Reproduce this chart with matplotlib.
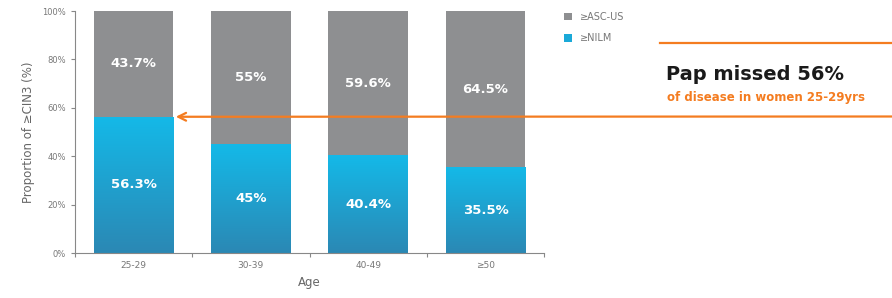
import matplotlib.pyplot as plt
import numpy as np
from matplotlib.colors import LinearSegmentedColormap

AGE_GROUPS = ["25-29", "30-39", "40-49", "≥50"]
NILM = [56.3, 45, 40.4, 35.5]
ASC_US = [43.7, 55, 59.6, 64.5]
NILM_LABELS = ["56.3%", "45%", "40.4%", "35.5%"]
ASC_LABELS = ["43.7%", "55%", "59.6%", "64.5%"]
Y_TICKS = [0, 20, 40, 60, 80, 100]

GREY = "#8e8f91"
CYAN = "#1aa9d8"
ORANGE = "#f47c20"
TXT = "#777777"

fig = plt.figure(figsize=(8.92, 2.98), dpi=100)
ax = fig.add_axes([0.084, 0.151, 0.526, 0.812])

x = np.arange(len(AGE_GROUPS))
w = 0.68
nilm_bars = ax.bar(x, NILM, w, color=CYAN, label="≥NILM")
ax.bar(x, ASC_US, w, bottom=NILM, color=GREY, label="≥ASC-US")

# vertical gradient on the cyan bars (darker at the bottom)
cmap = LinearSegmentedColormap.from_list("cy", ["#2b88b4", "#14b9e8"])
grad = np.linspace(0, 1, 256).reshape(-1, 1)
for b in nilm_bars:
    bx, by = b.get_x(), b.get_y()
    im = ax.imshow(grad, cmap=cmap, origin="lower", aspect="auto",
                   extent=[bx, bx + b.get_width(), by, by + b.get_height()], zorder=1.5)
    im.set_clip_path(b)

for xi, n, a, nl, al in zip(x, NILM, ASC_US, NILM_LABELS, ASC_LABELS):
    ax.text(xi, n / 2, nl, ha="center", va="center", color="white",
            fontsize=9.5, fontweight="bold", zorder=3)
    ax.text(xi, n + a / 2, al, ha="center", va="center", color="white",
            fontsize=9.5, fontweight="bold", zorder=3)

ax.set_xlim(-0.5, len(AGE_GROUPS) - 0.5)
ax.set_ylim(0, 100)
ax.set_yticks(Y_TICKS)
ax.set_yticklabels([f"{t}%" for t in Y_TICKS], fontsize=6, color=TXT)
ax.set_xticks(np.arange(len(AGE_GROUPS) + 1) - 0.5)
ax.set_xticklabels([])
ax.set_xticks(x, minor=True)
ax.set_xticklabels(AGE_GROUPS, minor=True, fontsize=6.5, color=TXT)
ax.tick_params(axis="x", which="minor", length=0, pad=6)
ax.tick_params(axis="both", which="major", length=3, color="#888888")
for s in ["top", "right"]:
    ax.spines[s].set_visible(False)
for s in ["left", "bottom"]:
    ax.spines[s].set_color("#888888")
    ax.spines[s].set_linewidth(0.8)
ax.set_xlabel("Age", fontsize=8.5, color="#666666", labelpad=4)
ax.set_ylabel("Proportion of ≥CIN3 (%)", fontsize=8.5, color="#666666", labelpad=5)

# legend
h, l = ax.get_legend_handles_labels()
leg = fig.legend(h[::-1], l[::-1], loc="upper left", bbox_to_anchor=(0.623, 0.99),
                 frameon=False, fontsize=7, handlelength=0.8, handleheight=0.8,
                 labelspacing=1.2, handletextpad=0.8)
for t in leg.get_texts():
    t.set_color(TXT)

# callout
fig.add_artist(plt.Line2D([660 / 892, 1.0], [1 - 43 / 298] * 2, color=ORANGE, lw=1.6))
fig.text(666 / 892, 1 - 75 / 298, "Pap missed 56%", fontsize=14, fontweight="bold",
         color="#1a1a1a", va="center", ha="left")
fig.text(667 / 892, 1 - 97 / 298, "of disease in women 25-29yrs", fontsize=8.5,
         fontweight="bold", color=ORANGE, va="center", ha="left")
ax.annotate("", xy=(w / 2 + 0.02, NILM[0]), xycoords="data",
            xytext=(1.0, 1 - 116.5 / 298), textcoords="figure fraction",
            arrowprops=dict(arrowstyle="->", color=ORANGE, lw=1.6,
                            mutation_scale=14, shrinkA=0, shrinkB=0),
            annotation_clip=False)

fig.savefig("out.png", dpi=100)
